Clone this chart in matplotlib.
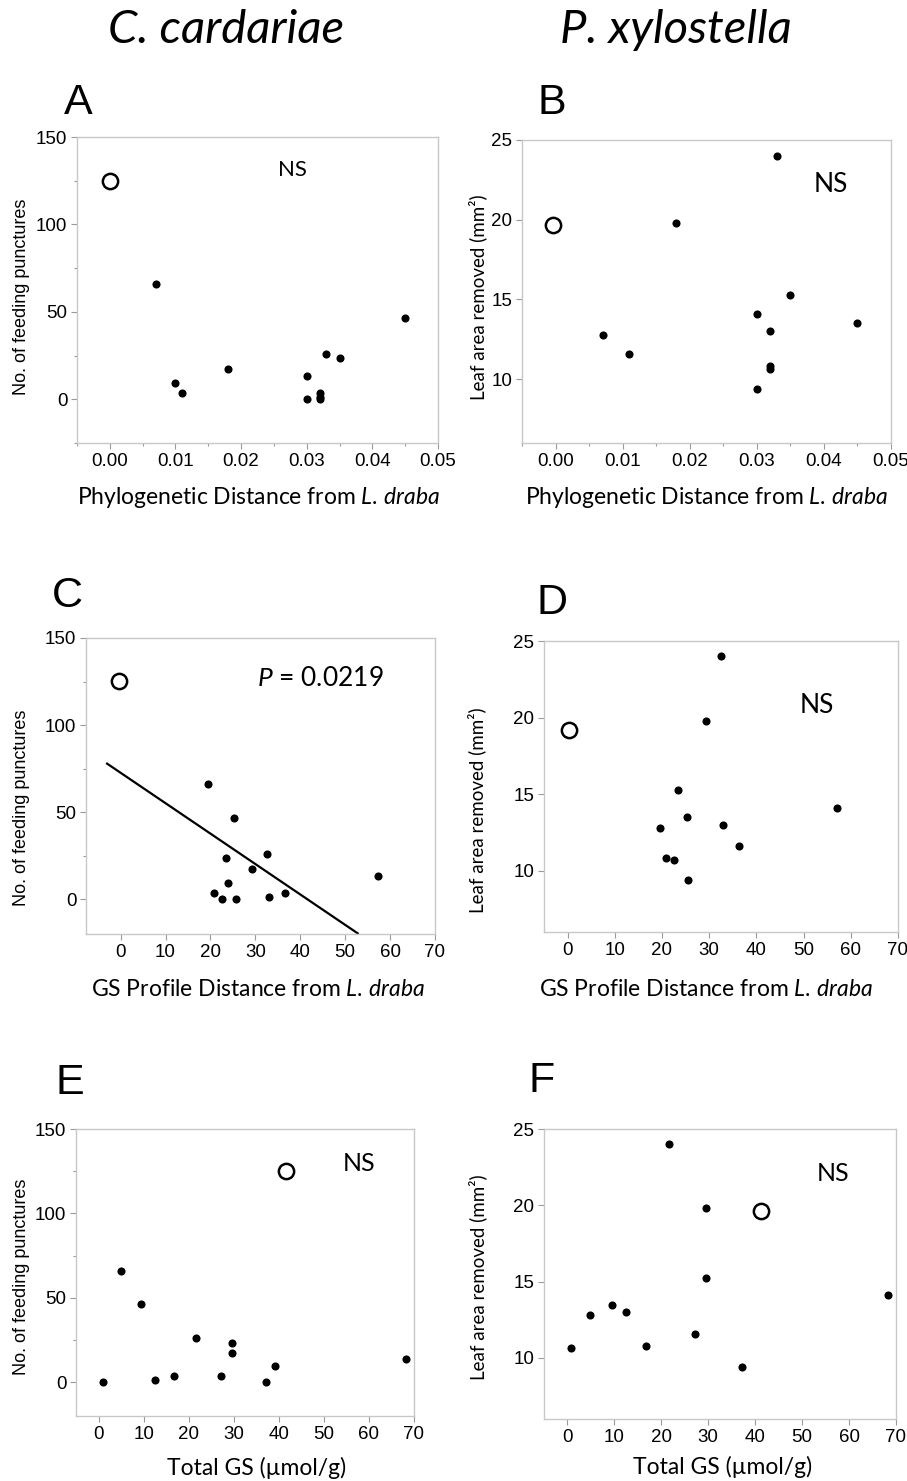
import numpy as np
import matplotlib
matplotlib.use('Agg')
import matplotlib.pyplot as plt
from matplotlib.ticker import MultipleLocator, FixedLocator

# ---- data ----
# C. cardariae: feeding punctures (12 species + L. draba as open circle)
phylo_cc = [0.007, 0.010, 0.011, 0.018, 0.030, 0.030, 0.032, 0.032, 0.032, 0.033, 0.035, 0.045]
punct_a = [66, 9.5, 3.5, 17.5, 13.5, 0, 3.5, 1.5, 0, 26, 23.5, 46.5]
draba_phylo_a = (0.0, 125)

gsdist_cc = [19.5, 25.3, 23.4, 32.5, 29.3, 24.0, 20.9, 22.5, 25.6, 33.0, 36.5, 57.2]
punct_c = [66, 46.5, 23.5, 26, 17.5, 9.5, 3.5, 0, 0, 1.5, 3.5, 13.5]
draba_gs_c = (-0.4, 125.5)
fit_intercept = 72.6
fit_slope = -1.747
fit_x = [-3.0, 52.8]

totgs_cc = [0.9, 5.0, 9.5, 12.5, 16.8, 21.7, 27.1, 29.6, 29.6, 37.2, 39.2, 68.3]
punct_e = [0, 66, 46.5, 1.5, 3.5, 26, 3.5, 23.5, 17.5, 0, 9.5, 13.5]
draba_tot_e = (41.7, 125)

# P. xylostella: leaf area removed (11 species + L. draba)
phylo_px = [0.007, 0.011, 0.018, 0.033, 0.035, 0.030, 0.032, 0.032, 0.032, 0.030, 0.045]
leaf_b = [12.8, 11.6, 19.8, 24.0, 15.25, 14.1, 13.0, 10.8, 10.67, 9.4, 13.5]
draba_phylo_b = (-0.0004, 19.7)

gsdist_px = [32.5, 29.3, 23.4, 25.3, 19.5, 32.9, 36.4, 20.8, 22.5, 25.5, 57.1]
leaf_d = [24.0, 19.8, 15.25, 13.5, 12.8, 13.0, 11.6, 10.8, 10.67, 9.4, 14.1]
draba_gs_d = (0.2, 19.2)

totgs_px = [0.85, 4.9, 9.4, 12.5, 16.8, 21.6, 29.6, 29.6, 27.2, 37.2, 68.4]
leaf_f = [10.67, 12.8, 13.5, 13.0, 10.8, 24.0, 19.8, 15.25, 11.6, 9.4, 14.1]
draba_tot_f = (41.2, 19.6)

SANS = ['Lato', 'DejaVu Sans']
HELV = ['Liberation Sans', 'DejaVu Sans']
GRAY = '#c8c8c8'

plt.rcParams['font.family'] = HELV
plt.rcParams['mathtext.fontset'] = 'custom'
plt.rcParams['mathtext.it'] = 'Lato:italic'
plt.rcParams['mathtext.rm'] = 'Lato'

W, H = 907, 1481
fig = plt.figure(figsize=(W / 100, H / 100), dpi=100)


def px_axes(l, t, r, b):
    return fig.add_axes([l / W, 1 - b / H, (r - l) / W, (b - t) / H])


def style(ax, xlim, ylim, xticks, yticks, xmin=None, ymin=None, xfmt=None):
    ax.set_xlim(*xlim)
    ax.set_ylim(*ylim)
    ax.xaxis.set_major_locator(FixedLocator(xticks))
    ax.yaxis.set_major_locator(FixedLocator(yticks))
    if xmin:
        ax.xaxis.set_minor_locator(MultipleLocator(xmin))
    if ymin:
        ax.yaxis.set_minor_locator(MultipleLocator(ymin))
    if xfmt:
        ax.xaxis.set_major_formatter(plt.FormatStrFormatter(xfmt))
    for s in ax.spines.values():
        s.set_color(GRAY)
        s.set_linewidth(1.0)
    ax.tick_params(which='major', length=4, width=0.8, color='#999999', pad=3, labelsize=13.5)
    ax.tick_params(which='minor', length=2.5, width=0.8, color='#999999')


def pts(ax, x, y, open_pt):
    ax.scatter(x, y, s=34, color='black', zorder=3, linewidths=0)
    ax.plot(open_pt[0], open_pt[1], 'o', ms=11, mfc='white', mec='black', mew=1.8, zorder=3)


def ftext(x, y, s, **kw):
    fig.text(x / W, 1 - y / H, s, ha='center', va='center', **kw)


# column titles
ftext(226, 30, 'C. cardariae', family=SANS, style='italic', fontsize=34)
ftext(676, 30, 'P. xylostella', family=SANS, style='italic', fontsize=34)

phylo_ticks = [0.0, 0.01, 0.02, 0.03, 0.04, 0.05]
gs_ticks = [0, 10, 20, 30, 40, 50, 60, 70]
punct_ticks = [0, 50, 100, 150]
leaf_ticks = [10, 15, 20, 25]

# panel A
ax = px_axes(77, 137, 438, 443)
pts(ax, phylo_cc, punct_a, draba_phylo_a)
style(ax, (-0.005, 0.05), (-25, 150), phylo_ticks, punct_ticks, xmin=0.005, ymin=25, xfmt='%.2f')
ax.text(0.0278, 131, 'NS', family=SANS, fontsize=16, ha='center', va='center')

# panel B
ax = px_axes(522, 140, 891, 443)
pts(ax, phylo_px, leaf_b, draba_phylo_b)
style(ax, (-0.005, 0.05), (6, 25), phylo_ticks, leaf_ticks, xmin=0.005, xfmt='%.2f')
ax.text(0.041, 22.2, 'NS', family=SANS, fontsize=19, ha='center', va='center')

# panel C
ax = px_axes(86, 638, 435, 934)
pts(ax, gsdist_cc, punct_c, draba_gs_c)
fx = np.array(fit_x)
ax.plot(fx, fit_intercept + fit_slope * fx, color='black', lw=1.6, zorder=2)
style(ax, (-7.7, 70), (-20, 150), gs_ticks, punct_ticks, ymin=25)
ax.text(44.4, 127, r'$\it{P}$ = 0.0219', family=SANS, fontsize=19, ha='center', va='center')

# panel D
ax = px_axes(544, 641, 898, 932)
pts(ax, gsdist_px, leaf_d, draba_gs_d)
style(ax, (-5, 70), (6, 25), gs_ticks, leaf_ticks)
ax.text(52.9, 20.8, 'NS', family=SANS, fontsize=19, ha='center', va='center')

# panel E
ax = px_axes(76, 1129, 414, 1416)
pts(ax, totgs_cc, punct_e, draba_tot_e)
style(ax, (-5, 70), (-20, 150), gs_ticks, punct_ticks, ymin=25)
ax.text(57.8, 129.7, 'NS', family=SANS, fontsize=18, ha='center', va='center')

# panel F
ax = px_axes(544, 1129, 896, 1419)
pts(ax, totgs_px, leaf_f, draba_tot_f)
style(ax, (-5, 70), (6, 25), gs_ticks, leaf_ticks)
ax.text(56.5, 22.1, 'NS', family=SANS, fontsize=18, ha='center', va='center')

# panel letters
for letter, x, y in [('A', 78, 103), ('B', 552, 103), ('C', 67, 596),
                     ('D', 552, 603), ('E', 70, 1083), ('F', 542, 1081)]:
    ftext(x, y, letter, family=HELV, fontsize=31)

# axis labels
xl_phylo = 'Phylogenetic Distance from $\\it{L.\\,draba}$'
xl_gs = 'GS Profile Distance from $\\it{L.\\,draba}$'
xl_tot = 'Total GS (\u00b5mol/g)'
for s, x, y in [(xl_phylo, 259, 498), (xl_phylo, 707, 498), (xl_gs, 258, 990),
                (xl_gs, 706, 990), (xl_tot, 257, 1468), (xl_tot, 723, 1467)]:
    ftext(x, y, s, family=SANS, fontsize=16.5)

for s, x, y, fam, fs in [('No. of feeding punctures', 22, 297, HELV, 13),
                         ('Leaf area removed (mm\u00b2)', 478, 297, SANS, 13.5),
                         ('No. of feeding punctures', 22, 808, HELV, 13),
                         ('Leaf area removed (mm\u00b2)', 477, 810, SANS, 13.5),
                         ('No. of feeding punctures', 22, 1277, HELV, 13),
                         ('Leaf area removed (mm\u00b2)', 478, 1277, SANS, 13.5)]:
    ftext(x, y, s, family=fam, fontsize=fs, rotation=90)

fig.savefig('out.png', dpi=100)
